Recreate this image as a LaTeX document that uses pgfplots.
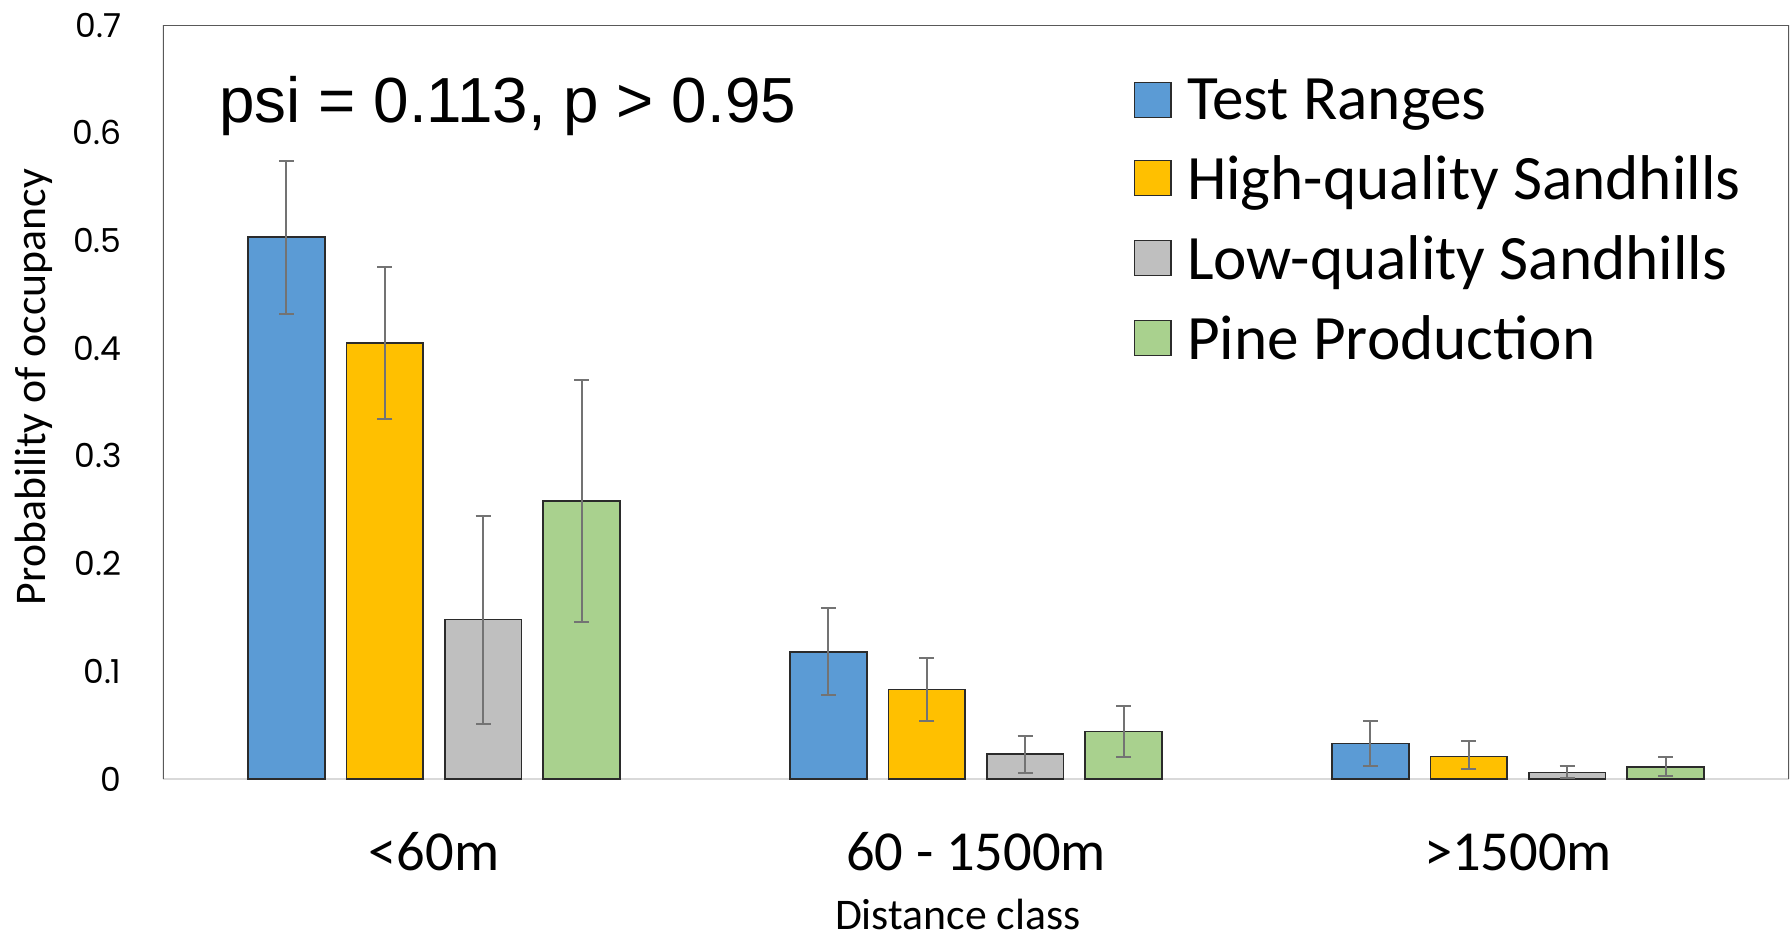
\documentclass[border=0pt]{standalone}
\usepackage{fontspec}
\usepackage{pgfplots}
\pgfplotsset{compat=1.18}
\setmainfont{Carlito}
\newfontfamily\arialf{Liberation Sans}
\newfontfamily\tickf{Poppins}
\definecolor{cblue}{HTML}{5B9BD5}
\definecolor{cyellow}{HTML}{FFC000}
\definecolor{cgray}{HTML}{BFBFBF}
\definecolor{cgreen}{HTML}{A9D18E}
\definecolor{edgec}{HTML}{2B2B2B}
\definecolor{errc}{HTML}{737373}
\definecolor{framec}{HTML}{595959}
\definecolor{basec}{HTML}{D9D9D9}
\begin{document}
\begin{tikzpicture}
\useasboundingbox (-65.2pt,-64pt) rectangle (651.6pt,311.6pt);
\begin{axis}[
  scale only axis, width=650.4pt, height=301.6pt,
  xmin=-0.5, xmax=2.5, ymin=0, ymax=0.7,
  ybar, bar width=0.1414,
  axis line style={draw=none},
  xtick={0,1,2}, xticklabels={<60m, 60 - 1500m, >1500m},
  ytick={0,0.1,0.2,0.3,0.4,0.5,0.6,0.7},
  major tick length=0pt,
  /pgf/number format/assume math mode=true,
  yticklabel style={font=\tickf\fontsize{13.2}{15}\selectfont, anchor=east, inner sep=0pt, xshift=-16.4pt},
  xticklabel style={font=\fontsize{22.6}{26}\selectfont, anchor=north, inner sep=0pt, text height=14.3pt, yshift=-22pt},
  legend style={draw=none, fill=none, at={(0.5966,0.929)}, anchor=north west, inner sep=0pt, row sep=12.9pt,
    nodes={inner sep=0pt, font=\fontsize{25.3}{30}\selectfont}},
  legend cell align=left,
  error bars/y dir=both, error bars/y explicit,
  error bars/error bar style={color=errc, line width=0.8pt},
  error bars/error mark options={rotate=90, mark size=3pt, line width=0.8pt, color=errc},
]
\draw[basec, line width=0.8pt] (rel axis cs:0,0) -- (rel axis cs:1,0);
\addplot[fill=cblue, draw=edgec, line width=0.6pt, bar shift=0pt,
  legend image code/.code={\draw[fill=cblue, draw=edgec, line width=0.6pt] (0pt,-6.5pt) rectangle (14.6pt,7.5pt); \path (20.8pt,0pt);}]
  coordinates {(-0.2722,0.503) += (0,0.071) -= (0,0.071)
               (0.7278,0.118) += (0,0.041) -= (0,0.040)
               (1.7278,0.033) += (0,0.021) -= (0,0.021)};
\addplot[fill=cyellow, draw=edgec, line width=0.6pt, bar shift=0pt,
  legend image code/.code={\draw[fill=cyellow, draw=edgec, line width=0.6pt] (0pt,-6.5pt) rectangle (14.6pt,7.5pt); \path (20.8pt,0pt);}]
  coordinates {(-0.0907,0.405) += (0,0.070) -= (0,0.071)
               (0.9093,0.083) += (0,0.029) -= (0,0.029)
               (1.9093,0.021) += (0,0.014) -= (0,0.012)};
\addplot[fill=cgray, draw=edgec, line width=0.6pt, bar shift=0pt,
  legend image code/.code={\draw[fill=cgray, draw=edgec, line width=0.6pt] (0pt,-6.5pt) rectangle (14.6pt,7.5pt); \path (20.8pt,0pt);}]
  coordinates {(0.0907,0.148) += (0,0.096) -= (0,0.097)
               (1.0907,0.023) += (0,0.017) -= (0,0.017)
               (2.0907,0.006) += (0,0.006) -= (0,0.005)};
\addplot[fill=cgreen, draw=edgec, line width=0.6pt, bar shift=0pt,
  legend image code/.code={\draw[fill=cgreen, draw=edgec, line width=0.6pt] (0pt,-6.5pt) rectangle (14.6pt,7.5pt); \path (20.8pt,0pt);}]
  coordinates {(0.2722,0.258) += (0,0.112) -= (0,0.112)
               (1.2722,0.044) += (0,0.024) -= (0,0.024)
               (2.2722,0.011) += (0,0.009) -= (0,0.008)};
\legend{Test Ranges, High-quality Sandhills, Low-quality Sandhills, Pine Production}
\draw[framec, line width=0.6pt] (rel axis cs:0,0) -- (rel axis cs:0,1) -- (rel axis cs:1,1) -- (rel axis cs:1,0);
\end{axis}
\node[anchor=base west, font=\arialf\fontsize{25.5}{30}\selectfont, inner sep=0pt] at (22.4pt,262.7pt) {psi = 0.113, p > 0.95};
\node[rotate=90, inner sep=0pt, font=\fontsize{17.5}{21}\selectfont] at (-51.6pt,156.8pt) {Probability of occupancy};
\node[inner sep=0pt, font=\fontsize{17.5}{21}\selectfont] at (317.9pt,-54pt) {Distance class};
\end{tikzpicture}
\end{document}
